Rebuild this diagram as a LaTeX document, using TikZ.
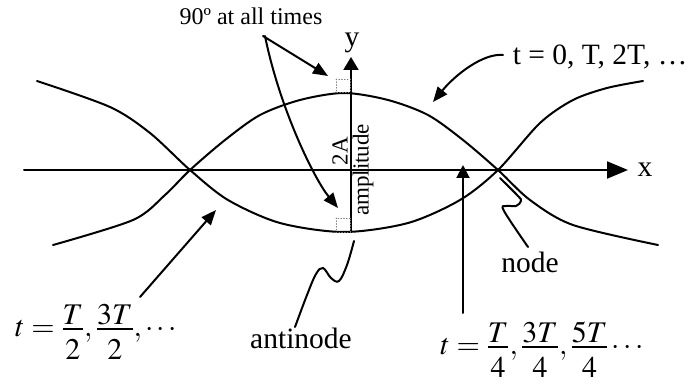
\documentclass[tikz,border=0pt]{standalone}
\usepackage{mathptmx}
\usepackage[no-math]{fontspec}
\setmainfont{Liberation Serif}
\usetikzlibrary{arrows.meta}
\newcommand{\bigfr}[2]{\frac{\displaystyle #1}{\displaystyle\rule{0pt}{29pt}#2}}
\begin{document}
\begin{tikzpicture}[x=1pt,y=-1pt,line width=2pt,line cap=round,
  arr/.style={-{Triangle[length=15pt,width=12pt]}},
  lbl/.style={font=\fontsize{29.5}{32}\selectfont,inner sep=0pt},
  sml/.style={font=\fontsize{24}{27}\selectfont,inner sep=0pt},
  rot/.style={font=\fontsize{23}{25}\selectfont,inner sep=0pt,rotate=90},
  mth/.style={font=\fontsize{30}{33}\selectfont,inner sep=0pt,anchor=base},
  rightangle/.style={dotted,line width=0.8pt,gray}]
\useasboundingbox (0,0) rectangle (691,385);
% standing wave curves
\draw plot[smooth] coordinates {(37,81) (110,107) (150,133) (190,170) (228,200) (280,223) (344,232) (408,223) (460,200) (498,170) (540,123) (573,100) (607,88) (643,81)};
\draw plot[smooth] coordinates {(53,245) (133,220) (165,195) (190,170) (225,140) (260,115) (300,100) (344,93) (388,100) (428,115) (463,140) (498,170) (530,200) (573,225) (658,245)};
% axes
\coordinate (xs) at (24,170);
\coordinate (xe) at (628,170);
\draw[-{Triangle[length=21pt,width=17pt]}] (xs) -- (xe);
\node[lbl,anchor=base] (xl) at (645,177) {x};
\coordinate (ys) at (351,232);
\coordinate (ye) at (351,57);
\draw[-{Triangle[length=13pt,width=15pt]}] (ys) -- (ye);
\node[lbl,anchor=base] (yl) at (352,47) {y};
% right angles
\draw[rightangle] (336,79) rectangle (350,92);
\draw[rightangle] (336,218) rectangle (350,232);
% amplitude labels
\node[rot] (twoA) at (340,151) {2A};
\node[rot] (ampl) at (363,170) {amplitude};
% 90 label
\node[sml,anchor=base] (ninety) at (251,25) {90º at all times};
\coordinate (n1) at (263,36);
\coordinate (n1e) at (328,76);
\coordinate (n2) at (265,36);
\coordinate (n2e) at (338,208);
\draw[arr] (n1) -- (n1e);
\draw[arr] (n2) .. controls (280,110) and (315,180) .. (n2e);
% t = 0 label
\node[lbl,anchor=base] (tzero) at (600,65) {t = 0, T, 2T, …};
\coordinate (tz) at (503,55);
\coordinate (tze) at (433,102);
\draw[arr] (tz) .. controls (483,53) and (455,75) .. (tze);
% left formula
\node[mth] (thalf) at (96,336.5) {$t=\bigfr{T}{2},\bigfr{3T}{2},\cdots$};
\coordinate (th) at (140,297);
\coordinate (the) at (216,210);
\draw[arr] (th) -- (the);
% right formula
\node[mth] (tquarter) at (542,354.5) {$t=\bigfr{T}{4},\bigfr{3T}{4},\bigfr{5T}{4}\cdots$};
\coordinate (tq) at (463,313);
\coordinate (tqe) at (463,165);
\draw[-{Triangle[length=13pt,width=13pt]}] (tq) -- (tqe);
% antinode
\node[lbl,anchor=base] (antinode) at (301,348) {antinode};
\draw plot[smooth,tension=0.6] coordinates {(354,241) (347,265) (339,281) (331,278) (323,268) (316,274) (307,295) (295,327)};
% node
\node[lbl,anchor=base] (nodelbl) at (530,272) {node};
\draw plot[smooth,tension=0.6] coordinates {(500,178) (518,196) (521,201) (516,206) (506,206) (504,211) (528,247)};
\end{tikzpicture}
\end{document}
